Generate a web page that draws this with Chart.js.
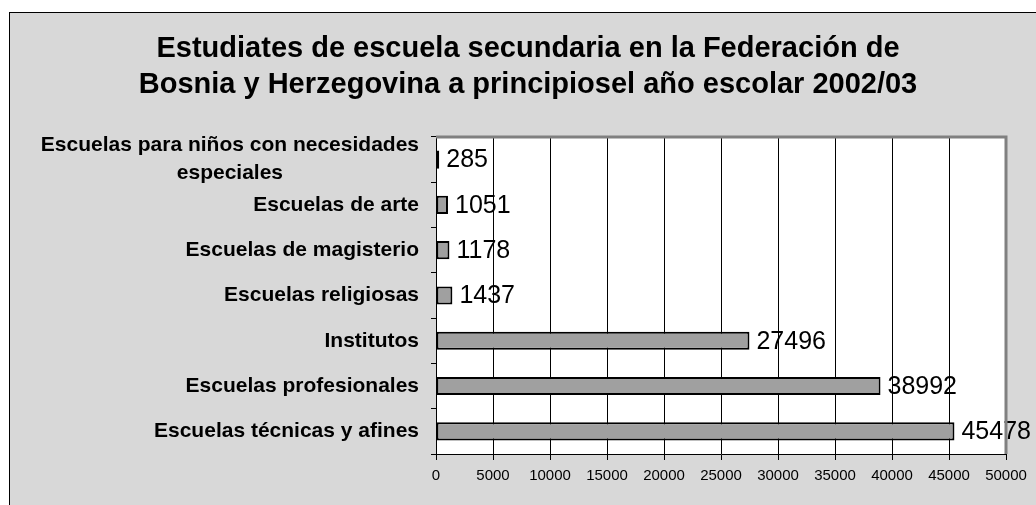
<!DOCTYPE html>
<html>
<head>
<meta charset="utf-8">
<script src="https://cdn.jsdelivr.net/npm/chart.js@4.4.0/dist/chart.umd.min.js"></script>
<style>
  body { margin: 0; background: #fff; }
  #frame {
    position: absolute; left: 9px; top: 12px;
    width: 1027px; height: 493px;
    border-left: 1px solid #000; border-top: 1px solid #000;
    background: #d8d8d8;
  }
  canvas { display: block; }
</style>
</head>
<body>
<div id="frame"><canvas id="schoolChart" width="1026" height="492"></canvas></div>
<script>
// datos
const categories = [
  ["Escuelas para niños con necesidades", "especiales"],
  "Escuelas de arte",
  "Escuelas de magisterio",
  "Escuelas religiosas",
  "Institutos",
  "Escuelas profesionales",
  "Escuelas técnicas y afines",
];
const students = [285, 1051, 1178, 1437, 27496, 38992, 45478];
const titleLines = [
  "Estudiates de escuela secundaria en la Federación de",
  "Bosnia y Herzegovina a principiosel año escolar 2002/03",
];

const FONT = "'Liberation Sans', Arial, sans-serif";

// fondo blanco del área de trazado + borde gris
const plotArea = {
  id: "plotArea",
  beforeDraw(chart) {
    const { ctx, chartArea: a } = chart;
    ctx.save();
    ctx.fillStyle = "#fff";
    ctx.fillRect(a.left, a.top, a.right - a.left, a.bottom - a.top);
    ctx.restore();
  },
  afterDraw(chart) {
    const { ctx, chartArea: a } = chart;
    ctx.save();
    ctx.strokeStyle = "#808080";
    ctx.lineWidth = 3;
    ctx.beginPath();
    ctx.moveTo(a.left, a.top);
    ctx.lineTo(a.right, a.top);
    ctx.lineTo(a.right, a.bottom);
    ctx.stroke();
    ctx.restore();
  },
};

// etiquetas de categoría (líneas centradas entre sí, bloque alineado a la derecha)
const categoryLabels = {
  id: "categoryLabels",
  afterDraw(chart) {
    const { ctx } = chart;
    const y = chart.scales.y;
    const right = y.right - 17;
    ctx.save();
    ctx.font = "bold 21px " + FONT;
    ctx.fillStyle = "#000";
    ctx.textAlign = "center";
    ctx.textBaseline = "middle";
    categories.forEach((label, i) => {
      const lines = Array.isArray(label) ? label : [label];
      const widest = Math.max(...lines.map((l) => ctx.measureText(l).width));
      const cx = right - widest / 2;
      const cy = y.getPixelForValue(i);
      const lh = 28;
      lines.forEach((l, j) => {
        ctx.fillText(l, cx, cy + (j - (lines.length - 1) / 2) * lh);
      });
    });
    ctx.restore();
  },
};

// valores junto a las barras
const valueLabels = {
  id: "valueLabels",
  afterDatasetsDraw(chart) {
    const { ctx } = chart;
    const meta = chart.getDatasetMeta(0);
    ctx.save();
    ctx.font = "25px " + FONT;
    ctx.fillStyle = "#000";
    ctx.textAlign = "left";
    ctx.textBaseline = "middle";
    meta.data.forEach((bar, i) => {
      ctx.fillText(String(students[i]), bar.x + 7, bar.y + 1);
    });
    ctx.restore();
  },
};

const ctx = document.getElementById("schoolChart");
new Chart(ctx, {
  type: "bar",
  data: {
    labels: categories,
    datasets: [
      {
        data: students,
        backgroundColor: "#a0a0a0",
        borderColor: "#000",
        borderWidth: 2,
        borderSkipped: false,
        barPercentage: 0.4,
        categoryPercentage: 1,
      },
    ],
  },
  options: {
    indexAxis: "y",
    responsive: false,
    animation: false,
    layout: { padding: { left: 40, right: 30, top: 0, bottom: 0 } },
    scales: {
      x: {
        min: 0,
        max: 50000,
        ticks: {
          stepSize: 5000,
          color: "#000",
          font: { family: FONT, size: 15 },
          padding: 7,
          callback: (v) => String(v),
        },
        grid: { color: "#000", lineWidth: 1, tickLength: 6 },
        border: { color: "#000", width: 1 },
        afterFit(scale) { scale.height = 51; },
      },
      y: {
        ticks: { display: false },
        grid: { drawOnChartArea: false, color: "#000", tickLength: 5 },
        border: { color: "#000", width: 1 },
        afterFit(scale) { scale.width = 386; },
      },
    },
    plugins: {
      legend: { display: false },
      tooltip: { enabled: false },
      title: {
        display: true,
        text: titleLines,
        color: "#000",
        font: { family: FONT, size: 29, weight: "bold", lineHeight: 1.24 },
        padding: { top: 18, bottom: 34 },
      },
    },
  },
  plugins: [plotArea, categoryLabels, valueLabels],
});
</script>
</body>
</html>
